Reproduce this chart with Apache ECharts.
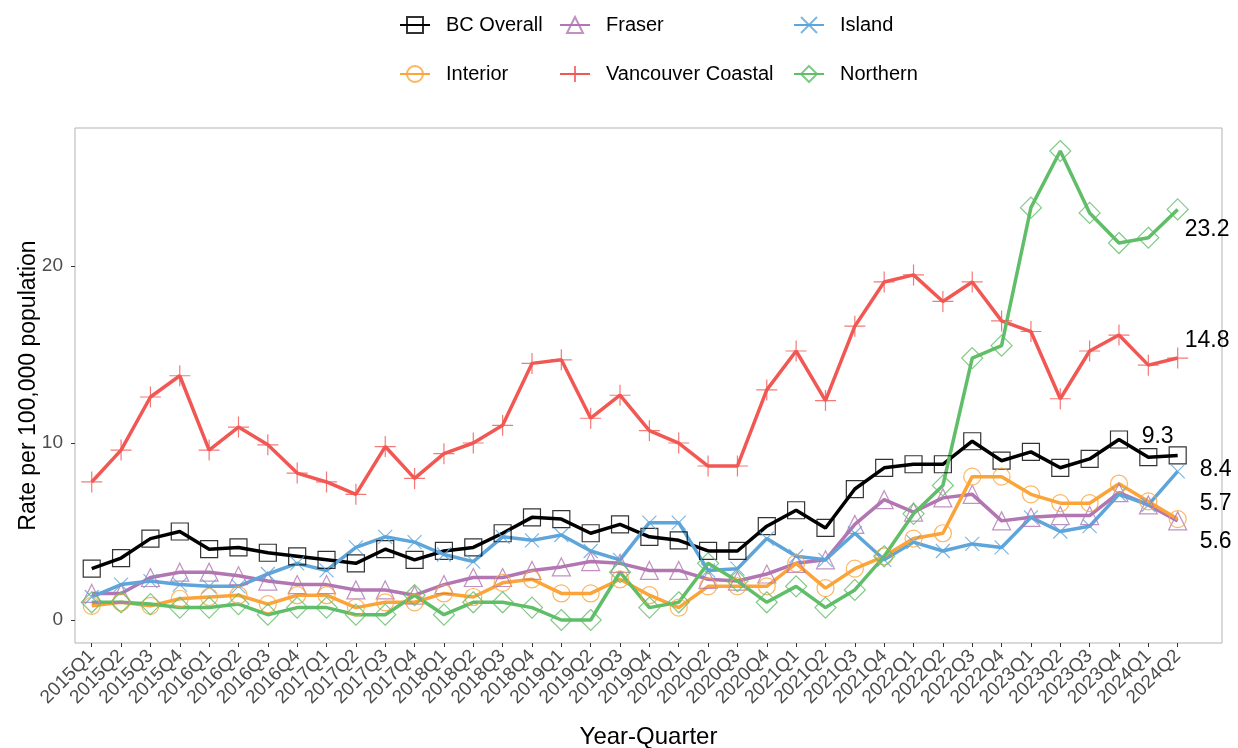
<!DOCTYPE html>
<html>
<head>
<meta charset="utf-8">
<script src="https://cdn.jsdelivr.net/npm/echarts@6/dist/echarts.min.js"></script>
<style>
html, body { margin: 0; padding: 0; background: #fff; }
#chart { width: 1238px; height: 748px; }
</style>
</head>
<body>
<div id="chart"></div>
<script>
var quarters = ['2015Q1','2015Q2','2015Q3','2015Q4','2016Q1','2016Q2','2016Q3','2016Q4',
    '2017Q1','2017Q2','2017Q3','2017Q4','2018Q1','2018Q2','2018Q3','2018Q4',
    '2019Q1','2019Q2','2019Q3','2019Q4','2020Q1','2020Q2','2020Q3','2020Q4',
    '2021Q1','2021Q2','2021Q3','2021Q4','2022Q1','2022Q2','2022Q3','2022Q4',
    '2023Q1','2023Q2','2023Q3','2023Q4','2024Q1','2024Q2'];

var bcOverall = [2.9,3.5,4.6,5.0, 4.0,4.1,3.8,3.6, 3.4,3.2,4.0,3.4, 3.9,4.1,4.9,5.8,
    5.7,4.9,5.4,4.7, 4.5,3.9,3.9,5.3, 6.2,5.2,7.4,8.6, 8.8,8.8,10.1,9.0,
    9.5,8.6,9.1,10.2, 9.2,9.3];
var fraser = [1.5,1.5,2.4,2.7, 2.7,2.5,2.2,2.0, 2.0,1.7,1.7,1.4, 2.0,2.4,2.4,2.8,
    3.0,3.3,3.2,2.8, 2.8,2.3,2.2,2.6, 3.2,3.4,5.4,6.8, 6.1,6.9,7.1,5.6,
    5.8,5.9,5.9,7.2, 6.5,5.6];
var island = [1.3,2.0,2.2,2.0, 1.9,1.9,2.6,3.2, 2.8,4.1,4.7,4.4, 3.7,3.3,4.7,4.5,
    4.8,3.9,3.4,5.5, 5.5,2.8,2.9,4.6, 3.6,3.4,4.9,3.4, 4.4,3.9,4.3,4.1,
    5.8,5.0,5.3,7.1, 6.5,8.4];
var interior = [0.8,1.0,0.8,1.2, 1.3,1.4,0.9,1.4, 1.4,0.7,1.0,1.0, 1.5,1.3,2.1,2.3,
    1.5,1.5,2.3,1.4, 0.7,1.9,1.9,1.9, 3.2,1.8,2.9,3.6, 4.6,4.9,8.1,8.1,
    7.1,6.6,6.6,7.7, 6.7,5.7];
var vanCoastal = [7.8,9.6,12.6,13.8, 9.6,10.9,9.9,8.3, 7.8,7.1,9.8,8.0, 9.4,10.0,11.0,14.5,
    14.7,11.4,12.7,10.7, 10.0,8.7,8.7,13.0, 15.2,12.4,16.6,19.1, 19.5,18.0,19.1,16.9,
    16.3,12.5,15.2,16.1, 14.4,14.8];
var northern = [1.0,1.0,0.9,0.7, 0.7,0.9,0.3,0.7, 0.7,0.3,0.3,1.4, 0.3,1.0,1.0,0.7,
    0.0,0.0,2.7,0.7, 1.0,3.2,2.2,1.0, 1.9,0.7,1.7,3.6, 6.0,7.6,14.8,15.5,
    23.3,26.5,23.0,21.3, 21.6,23.2];
var yTicks = [0, 10, 20];

var FONT = '"Liberation Sans", Arial, sans-serif';
var chart = echarts.init(document.getElementById('chart'));

var xTicks = quarters.map(function (q, i) { return i; });

function pairs(arr) {
    return arr.map(function (v, i) { return [i, v]; });
}

function makeSeries(name, arr, color, symbol, size, labelOffset) {
    return {
        name: name,
        type: 'line',
        data: pairs(arr),
        symbol: symbol,
        symbolSize: size,
        lineStyle: { color: color, width: 3.5 },
        itemStyle: { color: 'transparent', borderColor: color, borderWidth: 1.2, opacity: 0.8 },
        emphasis: { disabled: true },
        endLabel: {
            show: true,
            offset: labelOffset,
            fontFamily: FONT,
            fontSize: 23,
            color: '#000',
            formatter: function (p) { return p.value[1].toFixed(1); }
        }
    };
}

var plusPath = 'path://M10 0L10 20M0 10L20 10';
var crossPath = 'path://M0 0L20 20M20 0L0 20';

var option = {
    animation: false,
    backgroundColor: '#fff',
    grid: {
        left: 75, right: 16, top: 128, bottom: 105,
        outerBoundsMode: 'none',
        show: true, borderColor: '#b3b3b3', borderWidth: 1
    },
    legend: [
        { data: ['BC Overall', 'Interior'], left: 399 },
        { data: ['Fraser', 'Vancouver Coastal'], left: 559 },
        { data: ['Island', 'Northern'], left: 793 }
    ].map(function (l) {
        return {
            data: l.data, left: l.left, top: 15, orient: 'vertical',
            padding: 0, itemWidth: 30, itemHeight: 20, itemGap: 29,
            textStyle: { fontFamily: FONT, fontSize: 20, color: '#000', padding: [0, 0, 0, 11] }
        };
    }),
    xAxis: {
        type: 'value',
        min: -0.57, max: 38.51,
        name: 'Year-Quarter',
        nameLocation: 'middle',
        nameGap: 82,
        nameMoveOverlap: false,
        nameTextStyle: { fontFamily: FONT, fontSize: 24, color: '#000' },
        axisLine: { show: false, onZero: false },
        axisTick: { show: true, customValues: xTicks, length: 4, lineStyle: { color: '#333' } },
        axisLabel: {
            customValues: xTicks,
            rotate: 45,
            margin: 10,
            fontFamily: FONT, fontSize: 19, color: '#4d4d4d',
            formatter: function (v) { return quarters[v]; }
        },
        splitLine: { show: false }
    },
    yAxis: {
        type: 'value',
        min: -1.3, max: 27.8,
        name: 'Rate per 100,000 population',
        nameLocation: 'middle',
        nameGap: 35,
        nameMoveOverlap: false,
        nameTextStyle: { fontFamily: FONT, fontSize: 23, color: '#000' },
        axisLine: { show: false, onZero: false },
        axisTick: { show: true, customValues: yTicks, length: 4, lineStyle: { color: '#333' } },
        axisLabel: {
            customValues: yTicks,
            margin: 12,
            fontFamily: FONT, fontSize: 19, color: '#4d4d4d'
        },
        splitLine: { show: false }
    },
    series: [
        makeSeries('BC Overall', bcOverall, '#000000', 'rect', 17, [-44, -19]),
        makeSeries('Fraser', fraser, '#b276b2', 'triangle', 18, [14, 21]),
        makeSeries('Island', island, '#5da5da', crossPath, 14, [14, -2]),
        makeSeries('Interior', interior, '#faa43a', 'circle', 17, [14, -15]),
        makeSeries('Vancouver Coastal', vanCoastal, '#f15854', plusPath, 21, [-1, -17]),
        makeSeries('Northern', northern, '#60bd68', 'diamond', 21, [-1, 20])
    ]
};

chart.setOption(option);
</script>
</body>
</html>
